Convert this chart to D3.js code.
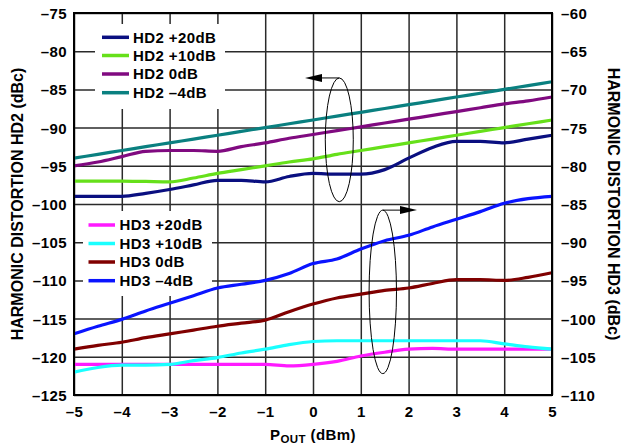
<!DOCTYPE html>
<html>
<head>
<meta charset="utf-8">
<script src="https://cdn.jsdelivr.net/npm/d3@7"></script>
<style>
  html, body { margin: 0; padding: 0; background: #fff; }
  svg { display: block; }
  text { font-family: "Liberation Sans", Arial, Helvetica, sans-serif; font-weight: bold; fill: #000; }
  .h { letter-spacing: 0.4px; }
</style>
</head>
<body>
<svg id="chart" width="621" height="446"></svg>
<script>
// ---------------- DATA ----------------
const pout = [-5,-4.5,-4,-3.5,-3,-2.5,-2,-1.5,-1,-0.5,0,0.5,1,1.5,2,2.5,3,3.5,4,4.5,5];

// HD2 series (left axis, dBc)
const hd2Plus20 = [-99,-99,-99,-98.6,-98.1,-97.5,-96.9,-96.9,-97.1,-96.4,-96,-96.1,-96.1,-95.5,-94,-92.6,-91.8,-91.8,-92,-91.5,-91];
const hd2Plus10 = [-97,-97,-97,-97.05,-97.1,-96.6,-96,-95.5,-95,-94.5,-94.1,-93.5,-93,-92.5,-92,-91.5,-91,-90.5,-90,-89.5,-89];
const hd2Zero   = [-95,-94.5,-93.8,-93.1,-93,-93,-93.1,-92.5,-92,-91.4,-90.9,-90.4,-89.9,-89.4,-88.9,-88.4,-87.9,-87.4,-86.9,-86.5,-86];
const hd2Minus4 = [-94,-93.5,-93,-92.5,-92,-91.5,-91,-90.5,-90,-89.5,-89,-88.5,-88,-87.5,-87,-86.5,-86,-85.5,-85,-84.5,-84];

// HD3 series (right axis, dBc)
const hd3Plus20 = [-106,-106,-106,-106,-106,-106,-106,-106,-106,-106.2,-106,-105.6,-104.9,-104.4,-104,-103.9,-104,-104,-104,-104,-104];
const hd3Plus10 = [-107,-106.4,-106.1,-106.1,-106,-105.5,-105.1,-104.5,-104,-103.4,-103,-102.9,-102.9,-102.9,-102.9,-102.9,-102.9,-102.9,-103.3,-103.7,-104];
const hd3Zero   = [-104,-103.5,-103.1,-102.5,-102,-101.5,-101,-100.6,-100.2,-99.1,-98.1,-97.3,-96.8,-96.3,-96,-95.4,-94.9,-94.9,-95,-94.6,-94];
const hd3Minus4 = [-102,-101,-100.1,-99,-98,-97,-96,-95.5,-95,-94.1,-92.8,-92.2,-90.9,-89.8,-89.1,-88,-87,-86,-84.9,-84.3,-84];

const xTicks = [-5,-4,-3,-2,-1,0,1,2,3,4,5];
const yLeftTicks = [-75,-80,-85,-90,-95,-100,-105,-110,-115,-120,-125];
const yRightTicks = [-60,-65,-70,-75,-80,-85,-90,-95,-100,-105,-110];

const hd2Names = ["HD2 +20dB","HD2 +10dB","HD2 0dB","HD2 \u20134dB"];
const hd3Names = ["HD3 +20dB","HD3 +10dB","HD3 0dB","HD3 \u20134dB"];
const hd2Colors = ["#0a0f80","#66e01a","#800a80","#0a8080"];
const hd3Colors = ["#ff1aff","#1affff","#800000","#0a14ff"];

// ---------------- LAYOUT ----------------
const svg = d3.select("#chart");
const L = 74, T = 13, R = 552, B = 395;
const W = R - L, H = B - T;

const x = d3.scaleLinear().domain([-5,5]).range([L,R]);
const yL = d3.scaleLinear().domain([-125,-75]).range([B,T]);
const yR = d3.scaleLinear().domain([-110,-60]).range([B,T]);

const fmt = d => (d < 0 ? "\u2013" + Math.abs(d) : String(d));

// gridlines via axes
const gx = svg.append("g").attr("transform",`translate(0,${B})`)
  .call(d3.axisBottom(x).tickValues(xTicks).tickSize(-H).tickFormat(fmt).tickPadding(0));
gx.select(".domain").remove();
gx.selectAll("line").attr("stroke","#2a2a2a").attr("stroke-width",1.5);
gx.selectAll("text").attr("class","h").attr("y",21.5).attr("dy",0).style("font-size","15px");

const gy = svg.append("g").attr("transform",`translate(${L},0)`)
  .call(d3.axisLeft(yL).tickValues(yLeftTicks).tickSize(-W).tickFormat(fmt).tickPadding(0));
gy.select(".domain").remove();
gy.selectAll("line").attr("stroke","#2a2a2a").attr("stroke-width",1.5);
gy.selectAll("text").attr("class","h").attr("x",-7).attr("dy","0.36em").style("font-size","15px");

const gr = svg.append("g").attr("transform",`translate(${R},0)`)
  .call(d3.axisRight(yR).tickValues(yRightTicks).tickSize(0).tickFormat(fmt).tickPadding(0));
gr.select(".domain").remove();
gr.selectAll("text").attr("class","h").attr("x",9).attr("dy","0.36em").style("font-size","15px");

// legend background boxes (cover gridlines)
svg.append("rect").attr("x",95).attr("y",24).attr("width",130).attr("height",85).attr("fill","#fff");
svg.append("rect").attr("x",83).attr("y",211).attr("width",129).attr("height",85).attr("fill","#fff");

// lines
const line = (ys, scale) => d3.line()
  .x((d,i) => x(pout[i]))
  .y(d => scale(d))
  .curve(d3.curveMonotoneX)(ys);

const plotG = svg.append("g");
const hd3Series = [hd3Plus20, hd3Plus10, hd3Zero, hd3Minus4];
const hd2Series = [hd2Plus20, hd2Plus10, hd2Zero, hd2Minus4];
hd3Series.forEach((s,i) => plotG.append("path").attr("d", line(s, yR))
  .attr("fill","none").attr("stroke",hd3Colors[i]).attr("stroke-width",3.2).attr("stroke-linejoin","round"));
hd2Series.forEach((s,i) => plotG.append("path").attr("d", line(s, yL))
  .attr("fill","none").attr("stroke",hd2Colors[i]).attr("stroke-width",3.2).attr("stroke-linejoin","round"));

// frame
svg.append("rect").attr("x",L).attr("y",T).attr("width",W).attr("height",H)
  .attr("fill","none").attr("stroke","#000").attr("stroke-width",2);

// legends
function legend(names, colors, x0, x1, tx, ys) {
  const g = svg.append("g");
  names.forEach((n,i) => {
    g.append("line").attr("x1",x0).attr("x2",x1).attr("y1",ys[i]).attr("y2",ys[i])
      .attr("stroke",colors[i]).attr("stroke-width",3.5);
    g.append("text").attr("class","h").attr("x",tx).attr("y",ys[i]).attr("dy","0.36em")
      .style("font-size","15px").text(n);
  });
}
legend(hd2Names, hd2Colors, 102, 129, 133, [37.3, 55.5, 74, 92.7]);
legend(hd3Names, hd3Colors, 88.5, 115, 119.5, [225, 243.5, 262, 280.7]);

// annotations: ellipses with arrows
const ann = svg.append("g").attr("fill","none").attr("stroke","#000").attr("stroke-width",1);
ann.append("ellipse").attr("cx",x(0.55)).attr("cy",(yL(-83.5)+yL(-99.7))/2)
  .attr("rx",14).attr("ry",(yL(-99.7)-yL(-83.5))/2);
ann.append("line").attr("x1",x(0.55)).attr("x2",322).attr("y1",yL(-83.5)).attr("y2",yL(-83.5));
svg.append("path").attr("d",`M305,${yL(-83.5)} L322,${yL(-83.5)-4} L322,${yL(-83.5)+4} Z`).attr("fill","#000");

ann.append("ellipse").attr("cx",x(1.46)).attr("cy",(yL(-100.8)+yL(-122.2))/2)
  .attr("rx",13.7).attr("ry",(yL(-122.2)-yL(-100.8))/2);
ann.append("line").attr("x1",x(1.46)).attr("x2",400).attr("y1",yL(-100.8)).attr("y2",yL(-100.8));
svg.append("path").attr("d",`M417,${yL(-100.8)} L400,${yL(-100.8)-4} L400,${yL(-100.8)+4} Z`).attr("fill","#000");

// axis titles
svg.append("text").attr("transform",`translate(23,${(T+B)/2}) rotate(-90)`)
  .attr("text-anchor","middle").style("font-size","16px").text("HARMONIC DISTORTION HD2 (dBc)");
svg.append("text").attr("transform",`translate(607.5,${(T+B)/2}) rotate(90)`)
  .attr("text-anchor","middle").style("font-size","16px").text("HARMONIC DISTORTION HD3 (dBc)");
const xt = svg.append("text").attr("class","h").attr("x",(L+R)/2).attr("y",440).attr("text-anchor","middle").style("font-size","15px");
xt.append("tspan").text("P");
xt.append("tspan").attr("dy",3).style("font-size","11.5px").text("OUT");
xt.append("tspan").attr("dy",-3).text(" (dBm)");
</script>
</body>
</html>
